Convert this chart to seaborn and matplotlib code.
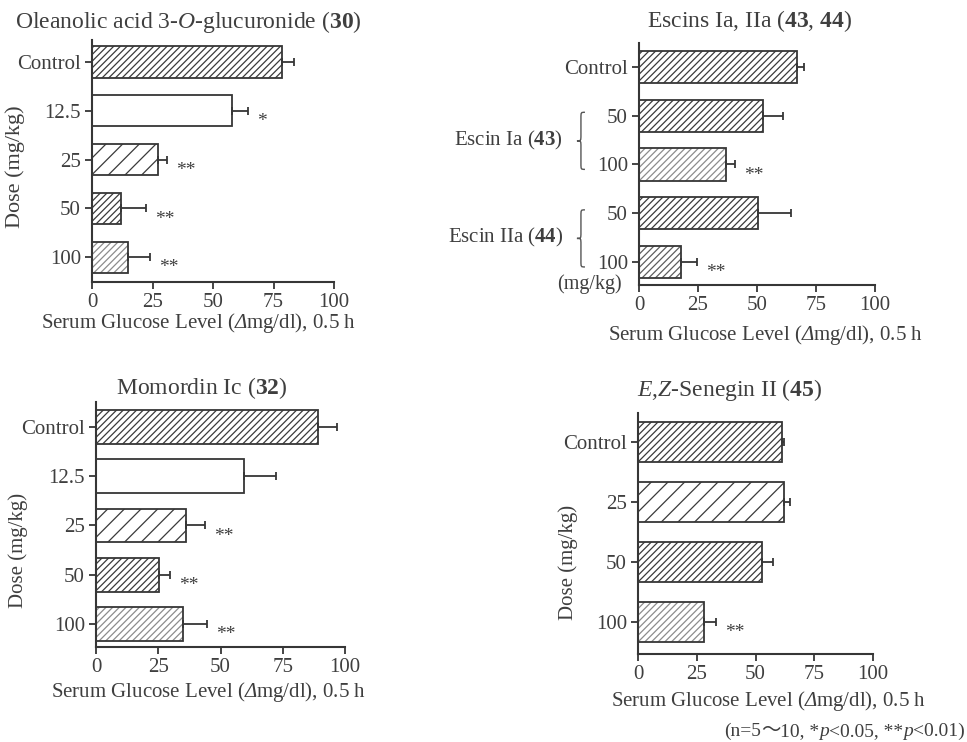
import numpy as np
import pandas as pd
import matplotlib
matplotlib.use("Agg")
import matplotlib.pyplot as plt
import matplotlib.transforms as mtransforms
from matplotlib.path import Path
from matplotlib.patches import PathPatch, Rectangle
import seaborn as sns

# ---------------- data ----------------
ole_doses = ["Control", "12.5", "25", "50", "100"]
ole_glucose = [78.4, 57.7, 27.4, 12.0, 15.0]
ole_sem = [5.2, 6.8, 3.7, 10.3, 9.0]
ole_sig = ["", "*", "**", "**", "**"]

escin_groups = ["Control", "Ia-50", "Ia-100", "IIa-50", "IIa-100"]
escin_doses = ["Control", "50", "100", "50", "100"]
escin_glucose = [67.1, 52.4, 36.9, 50.3, 17.8]
escin_sem = [2.9, 8.8, 3.8, 14.0, 6.8]
escin_sig = ["", "", "**", "", "**"]
escin_compounds = [("Escin Ia ($\\mathbf{43}$)", ["Ia-50", "Ia-100"]),
                   ("Escin IIa ($\\mathbf{44}$)", ["IIa-50", "IIa-100"])]

momo_doses = ["Control", "12.5", "25", "50", "100"]
momo_glucose = [89.3, 59.6, 36.1, 25.2, 35.1]
momo_sem = [7.6, 12.6, 7.7, 4.5, 9.6]
momo_sig = ["", "", "**", "**", "**"]

sene_doses = ["Control", "25", "50", "100"]
sene_glucose = [61.2, 62.2, 52.9, 28.0]
sene_sem = [1.1, 2.5, 4.4, 5.0]
sene_sig = ["", "", "", "**"]

x_ticks = [0, 25, 50, 75, 100]

# \mathsf is mapped to the italic serif so that the capital delta is slanted
XLABEL = "Serum Glucose Level ($\\mathsf{\\Delta}$mg/dl), 0.5 h"
YLABEL = "Dose (mg/kg)"

# ---------------- style ----------------
sns.set_style("ticks")
TEXT = "#3f3f3f"
LINE = "#363636"
plt.rcParams.update({
    "font.family": ["Liberation Serif", "Noto Sans CJK JP"],
    "mathtext.fontset": "custom",
    "mathtext.rm": "Liberation Serif",
    "mathtext.it": "Liberation Serif:italic",
    "mathtext.sf": "Liberation Serif:italic",
    "mathtext.bf": "Liberation Serif:bold",
    "text.color": TEXT,
    "axes.labelcolor": TEXT,
    "xtick.color": LINE,
    "ytick.color": LINE,
    "xtick.labelcolor": TEXT,
    "ytick.labelcolor": TEXT,
    "hatch.linewidth": 0.9,
})

# bar fill styles: (hatch, hatch colour)
FILLS = {
    "dense": ("/////", "#3a3a3a"),
    "mid": ("//", "#3a3a3a"),
    "wide": ("//", "#3a3a3a"),
    "open": ("", "#3a3a3a"),
    "light": ("/////", "#8c8c8c"),
    "medium": ("/////", "#5e5e5e"),
}

W, H = 967, 742
fig = plt.figure(figsize=(W / 100, H / 100), dpi=100)
fig.patch.set_facecolor("white")


def axes_px(x0, x1, ytop, ybot):
    return [x0 / W, 1 - ybot / H, (x1 - x0) / W, (ybot - ytop) / H]


def panel(rect, cats, labels, vals, errs, sig, fills, width, ylim,
          title, title_xy, xlabel_xy, ylabel_xy=None, ylabel_size=15):
    ax = fig.add_axes(rect)
    df = pd.DataFrame({"dose": cats, "glucose": vals})
    sns.barplot(data=df, x="glucose", y="dose", order=cats, orient="h",
                color="white", saturation=1, width=width, errorbar=None,
                edgecolor=LINE, linewidth=0, ax=ax)
    bars = list(ax.patches)
    for p, f in zip(bars, fills):
        hatch, hc = FILLS[f]
        p.set_facecolor("white")
        p.set_hatch(hatch)
        p.set_edgecolor(hc)
        p.set_linewidth(0)
        ax.add_patch(Rectangle((p.get_x(), p.get_y()), p.get_width(), p.get_height(),
                               fill=False, edgecolor=LINE, linewidth=1.3, zorder=3))
    centers = [p.get_y() + p.get_height() / 2 for p in bars]
    ax.errorbar(vals, centers, xerr=[np.zeros(len(vals)), errs], fmt="none",
                ecolor=LINE, elinewidth=1.3, capsize=3.2, capthick=1.3, zorder=2)
    for v, e, c, s in zip(vals, errs, centers, sig):
        if s:
            ax.annotate(s, (v + e, c), xytext=(6.5, -11.0), textcoords="offset points",
                        ha="left", va="baseline", fontsize=14, color=TEXT)
    ax.set_xlim(0, 100)
    ax.set_ylim(*ylim)
    ax.set_xticks(x_ticks)
    ax.set_yticks(range(len(cats)))
    ax.set_yticklabels(labels)
    ax.tick_params(axis="both", length=5, width=1.3, labelsize=15, pad=3)
    sns.despine(ax=ax)
    for side in ("left", "bottom"):
        ax.spines[side].set_linewidth(1.5)
        ax.spines[side].set_color(LINE)
    ax.set_xlabel(XLABEL, fontsize=15)
    ax.xaxis.set_label_coords(*xlabel_xy)
    ax.xaxis.label.set_va("center")
    if ylabel_xy is not None:
        ax.set_ylabel(YLABEL, fontsize=ylabel_size)
        ax.yaxis.set_label_coords(*ylabel_xy)
        ax.yaxis.label.set_va("center")
    else:
        ax.set_ylabel("")
    ax.text(*title_xy, title, transform=ax.transAxes, ha="center", va="center",
            fontsize=17)
    return ax


# Oleanolic acid 3-O-glucuronide
panel(axes_px(92, 334, 40, 282), ole_doses, ole_doses, ole_glucose, ole_sem, ole_sig,
      ["dense", "open", "wide", "dense", "light"], 0.64, (4.51, -0.45),
      "Oleanolic acid 3-$\\mathit{O}$-glucuronide ($\\mathbf{30}$)", (0.397, 1.074),
      (0.438, -0.169), (-0.318, 0.475), ylabel_size=16)

# Escins Ia, IIa
ax2 = panel(axes_px(639, 875, 43, 285), escin_groups, escin_doses, escin_glucose,
            escin_sem, escin_sig, ["dense", "dense", "light", "dense", "medium"],
            0.66, (4.47, -0.49),
            "Escins Ia, IIa ($\\mathbf{43}$, $\\mathbf{44}$)", (0.47, 1.091),
            (0.534, -0.207))
blend = mtransforms.blended_transform_factory(ax2.transAxes, ax2.transData)
for name, members in escin_compounds:
    idx = [escin_groups.index(m) for m in members]
    y0, y1 = min(idx) - 0.07, max(idx) + 0.1
    ym = (y0 + y1) / 2
    xr, xl = -0.229, -0.263
    xm = (xr + xl) / 2
    d = 0.12
    verts = [(xr, y0), (xm, y0), (xm, y0), (xm, y0 + d),
             (xm, ym - d),
             (xm, ym), (xm, ym), (xl, ym),
             (xm, ym), (xm, ym), (xm, ym + d),
             (xm, y1 - d),
             (xm, y1), (xm, y1), (xr, y1)]
    codes = [Path.MOVETO, Path.CURVE4, Path.CURVE4, Path.CURVE4,
             Path.LINETO,
             Path.CURVE4, Path.CURVE4, Path.CURVE4,
             Path.CURVE4, Path.CURVE4, Path.CURVE4,
             Path.LINETO,
             Path.CURVE4, Path.CURVE4, Path.CURVE4]
    ax2.add_patch(PathPatch(Path(verts, codes), transform=blend, fill=False,
                            edgecolor="#555555", linewidth=1.0, clip_on=False))
    ax2.text(-0.322, (min(idx) + max(idx)) / 2, name, transform=blend,
             ha="right", va="center", fontsize=15)
ax2.text(-0.072, len(escin_groups) - 1 + 0.45, "(mg/kg)", transform=blend,
         ha="right", va="center", fontsize=14.5)

# Momordin Ic
panel(axes_px(96, 345, 402, 647), momo_doses, momo_doses, momo_glucose, momo_sem,
      momo_sig, ["dense", "open", "wide", "dense", "light"], 0.69, (4.47, -0.51),
      "Momordin Ic ($\\mathbf{32}$)", (0.426, 1.057),
      (0.45, -0.184), (-0.313, 0.396))

# E,Z-Senegin II
panel(axes_px(638, 873, 413, 654), sene_doses, sene_doses, sene_glucose, sene_sem,
      sene_sig, ["dense", "mid", "dense", "light"], 0.67, (3.53, -0.48),
      "$\\mathit{E}$,$\\mathit{Z}$-Senegin II ($\\mathbf{45}$)", (0.391, 1.095),
      (0.557, -0.195), (-0.298, 0.378))

# footnote, right aligned, pieces share one baseline
serif = {"family": "Liberation Serif"}
pieces = [("(n=5", serif), ("\uff5e", {"family": "Noto Sans CJK JP"}),
          ("10, *", serif), ("p", {"family": "Liberation Serif", "style": "italic"}),
          ("<0.05, **", serif), ("p", {"family": "Liberation Serif", "style": "italic"}),
          ("<0.01)", serif)]
renderer = fig.canvas.get_renderer()
texts = [fig.text(0, 1 - 736 / H, s, ha="left", va="baseline", fontsize=14,
                  color=TEXT, fontdict=kw) for s, kw in pieces]
widths = [t.get_window_extent(renderer).width for t in texts]
x = 965 - sum(widths)
for t, w in zip(texts, widths):
    t.set_x(x / W)
    x += w

fig.savefig("out.png", dpi=100, facecolor="white")
